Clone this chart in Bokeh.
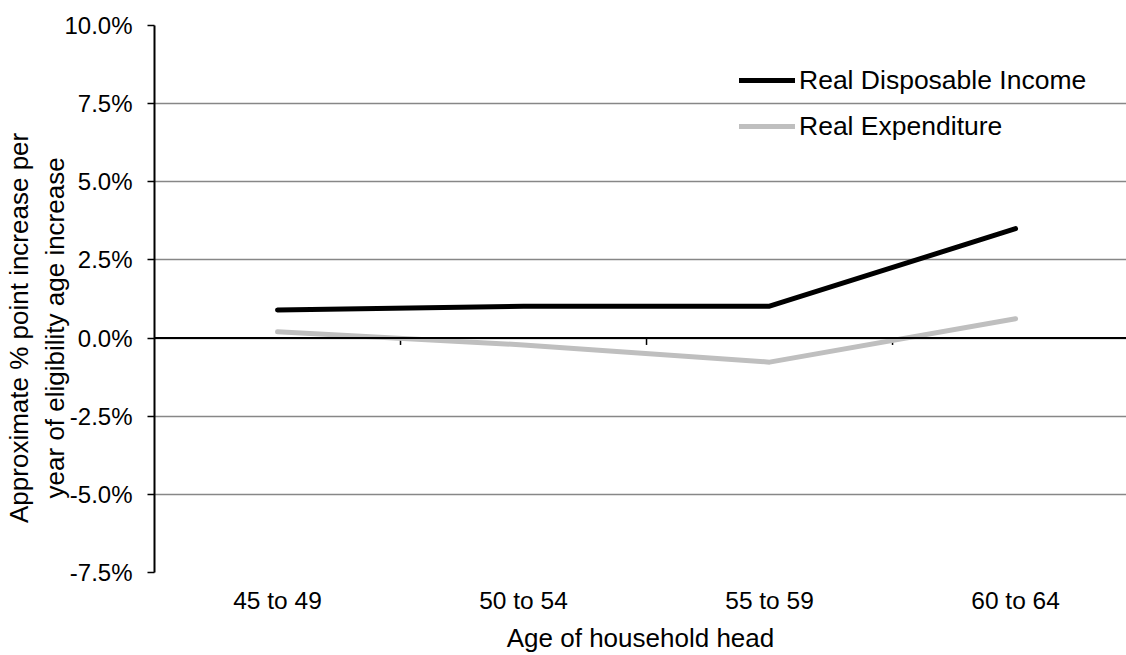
from bokeh.plotting import figure
from bokeh.models import (ColumnDataSource, FixedTicker, NumeralTickFormatter, Span,
                          Legend, LegendItem, Range1d)
from bokeh.embed import file_html
from bokeh.resources import INLINE

categories = ["45 to 49", "50 to 54", "55 to 59", "60 to 64"]
income = [0.0090, 0.0102, 0.0102, 0.0350]
expenditure = [0.0020, -0.0022, -0.0077, 0.0062]
y_ticks = [-0.075, -0.05, -0.025, 0.0, 0.025, 0.05, 0.075, 0.10]
series_names = ["Real Disposable Income", "Real Expenditure"]
y_title = ["Approximate % point increase per", "year of eligibility age increase"]
x_title = "Age of household head"

FONT = "Liberation Sans"
xpos = [i + 0.5 for i in range(len(categories))]
pad = "\u00a0" * 8  # shifts the centred y title down, as in the reference

p = figure(width=1126, height=655, output_backend="svg", toolbar_location=None,
           x_range=Range1d(0, 3.951), y_range=Range1d(min(y_ticks), max(y_ticks)),
           min_border_left=152, min_border_right=0, min_border_top=25, min_border_bottom=82)
p.outline_line_color = None
p.background_fill_color = "white"
p.border_fill_color = "white"

# grid
p.xgrid.visible = False
p.ygrid.ticker = FixedTicker(ticks=y_ticks)
p.ygrid.grid_line_color = "#878787"
p.ygrid.grid_line_width = 1.6

# y axis
ya = p.yaxis[0]
ya.ticker = FixedTicker(ticks=y_ticks)
ya.formatter = NumeralTickFormatter(format="0.0%")
ya.axis_line_color = "black"
ya.axis_line_width = 2
ya.major_tick_line_color = "black"
ya.major_tick_line_width = 1.5
ya.major_tick_out = 7
ya.major_tick_in = 0
ya.minor_tick_line_color = None
ya.major_label_standoff = 15
ya.major_label_text_font = FONT
ya.major_label_text_font_size = "24px"
ya.major_label_text_color = "black"
ya.axis_label = "\n".join(t + pad for t in y_title)
ya.axis_label_text_font = FONT
ya.axis_label_text_font_size = "26px"
ya.axis_label_text_font_style = "normal"
ya.axis_label_text_color = "black"
ya.axis_label_text_line_height = 1.23
ya.axis_label_standoff = -9

# x axis (labels only)
xa = p.xaxis[0]
xa.ticker = FixedTicker(ticks=xpos)
xa.major_label_overrides = {x: c for x, c in zip(xpos, categories)}
xa.axis_line_color = None
xa.major_tick_line_color = None
xa.major_tick_out = 0
xa.major_tick_in = 0
xa.minor_tick_line_color = None
xa.major_label_standoff = 14
xa.major_label_text_font = FONT
xa.major_label_text_font_size = "24.5px"
xa.major_label_text_color = "black"
xa.axis_label = x_title
xa.axis_label_text_font = FONT
xa.axis_label_text_font_size = "26px"
xa.axis_label_text_font_style = "normal"
xa.axis_label_text_color = "black"
xa.axis_label_standoff = 6

# zero line with category boundary ticks
p.add_layout(Span(location=0, dimension="width", line_color="black", line_width=2))
bounds = list(range(1, len(categories) + 1))
tick_len = 0.0022
p.segment(x0=bounds, x1=bounds, y0=[0] * len(bounds), y1=[-tick_len] * len(bounds),
          line_color="black", line_width=1.5)

src = ColumnDataSource(dict(x=xpos, inc=income, exp=expenditure))
r1 = p.line("x", "inc", source=src, line_color="black", line_width=5, line_cap="round", line_join="round")
r2 = p.line("x", "exp", source=src, line_color="#bfbfbf", line_width=5, line_cap="round", line_join="round")

legend = Legend(items=[LegendItem(label=series_names[0], renderers=[r1]),
                       LegendItem(label=series_names[1], renderers=[r2])],
                location=(585, 426), orientation="vertical",
                glyph_width=56, glyph_height=40, label_height=40, spacing=6,
                padding=0, margin=0, label_standoff=4,
                border_line_color=None, background_fill_alpha=0,
                label_text_font=FONT, label_text_font_size="26.5px", label_text_color="black")
p.add_layout(legend, "center")

open("out.html", "w").write(file_html(p, INLINE))
